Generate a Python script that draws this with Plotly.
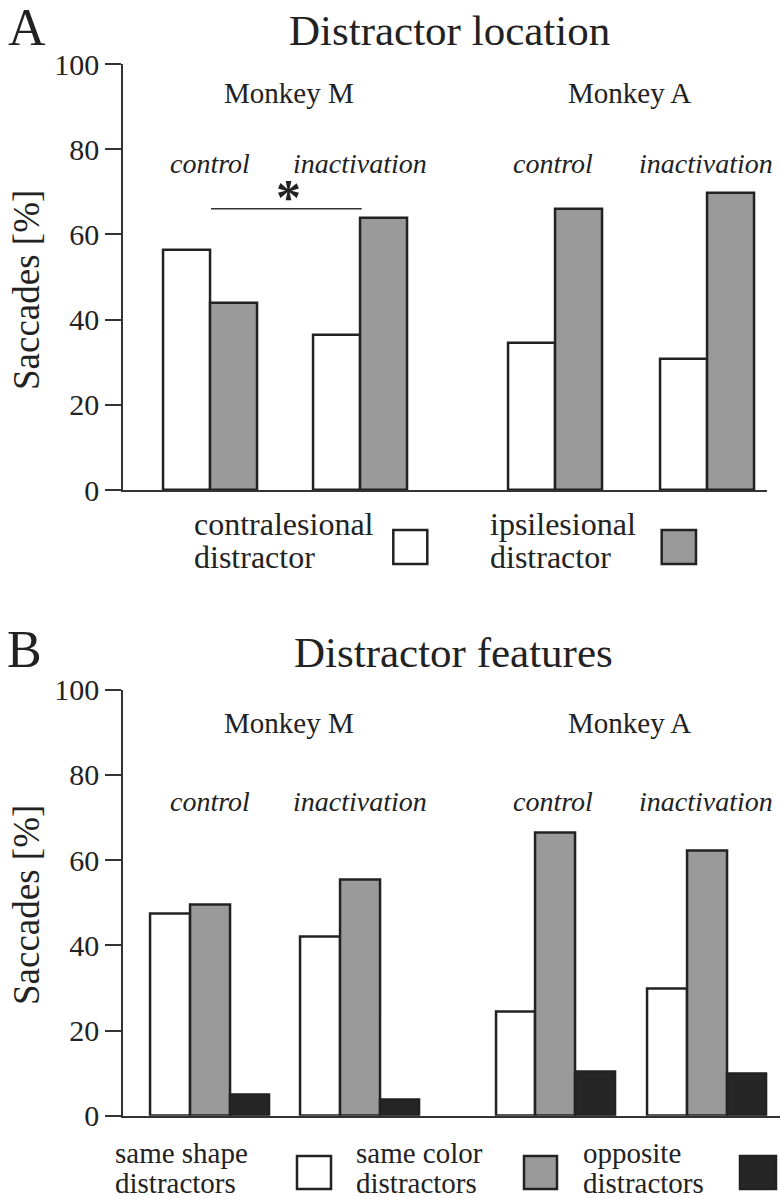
import plotly.graph_objects as go

# ---------------- data ----------------
conditions = ["control", "inactivation", "control", "inactivation"]
monkeys = ["Monkey M", "Monkey A"]

# Panel A: distractor location (% saccades)
contralesional = [56.3, 36.3, 34.4, 30.7]
ipsilesional = [44.0, 63.9, 65.9, 69.8]

# Panel B: distractor features (% saccades)
same_shape = [47.5, 42.0, 24.5, 29.7]
same_color = [49.5, 55.3, 66.5, 62.1]
opposite = [4.9, 3.7, 10.3, 9.9]

y_ticks = [0, 20, 40, 60, 80, 100]

# ---------------- layout constants ----------------
W, H = 780, 1199
GROUP_POS = [0, 1, 2.304, 3.313]    # group centres (150 px per unit)
PX_PER_UNIT = 150.0
X0 = 210.0                         # pixel of group 0 centre

WHITE = "#ffffff"
GRAY = "#9a9a9a"
BLACK = "#262626"
EDGE = "#222222"
AX = "#333333"
FONT = "Liberation Serif"


def px(x):
    return x / W


def py(y):
    return 1 - y / H


def xr(p):
    return (p - X0) / PX_PER_UNIT


fig = go.Figure()

# Panel A bars
wA = 47 / PX_PER_UNIT
fig.add_trace(go.Bar(x=GROUP_POS, y=contralesional, width=wA, offset=-wA,
                     marker=dict(color=WHITE, line=dict(color=EDGE, width=2.5)),
                     xaxis="x", yaxis="y", name="contralesional distractor"))
fig.add_trace(go.Bar(x=GROUP_POS, y=ipsilesional, width=wA, offset=0,
                     marker=dict(color=GRAY, line=dict(color=EDGE, width=2.5)),
                     xaxis="x", yaxis="y", name="ipsilesional distractor"))

# Panel B bars
wB = 39.7 / PX_PER_UNIT
fig.add_trace(go.Bar(x=GROUP_POS, y=same_shape, width=wB, offset=-1.5 * wB,
                     marker=dict(color=WHITE, line=dict(color=EDGE, width=2.5)),
                     xaxis="x2", yaxis="y2", name="same shape distractors"))
fig.add_trace(go.Bar(x=GROUP_POS, y=same_color, width=wB, offset=-0.5 * wB,
                     marker=dict(color=GRAY, line=dict(color=EDGE, width=2.5)),
                     xaxis="x2", yaxis="y2", name="same color distractors"))
fig.add_trace(go.Bar(x=GROUP_POS, y=opposite, width=wB, offset=0.5 * wB,
                     marker=dict(color=BLACK, line=dict(color=EDGE, width=2.5)),
                     xaxis="x2", yaxis="y2", name="opposite distractors"))

yax_common = dict(range=[0, 100], tickvals=y_ticks, showline=True, linecolor=AX,
                  linewidth=2, ticks="outside", ticklen=16, tickwidth=2,
                  tickcolor=AX, showgrid=False, zeroline=False, automargin=False,
                  tickfont=dict(family=FONT, size=30, color="#222"))
xax_common = dict(showline=True, linecolor=AX, linewidth=2, showticklabels=False,
                  ticks="", showgrid=False, zeroline=False, automargin=False)

fig.update_layout(
    template="none",
    width=W, height=H, margin=dict(l=0, r=0, t=0, b=0, pad=0, autoexpand=False),
    paper_bgcolor="white", plot_bgcolor="white", showlegend=False,
    bargap=0,
    xaxis=dict(domain=[px(123.3), px(766.7)], range=[xr(123.3), xr(766.7)],
               anchor="y", **xax_common),
    yaxis=dict(domain=[py(490), py(64)], anchor="x", **yax_common),
    xaxis2=dict(domain=[px(123.3), 1.0], range=[xr(123.3), xr(780)],
                anchor="y2", **xax_common),
    yaxis2=dict(domain=[py(1115.7), py(689.7)], anchor="x2", **yax_common),
)

anns = []


def txt(x, y, s, size, italic=False, xanchor="center", yanchor="middle", angle=0):
    if italic:
        s = "<i>" + s + "</i>"
    anns.append(dict(x=px(x), y=py(y), xref="paper", yref="paper", text=s,
                     showarrow=False, xanchor=xanchor, yanchor=yanchor,
                     textangle=angle,
                     font=dict(family=FONT, size=size, color="#222")))


# Panel letters and titles
txt(27, 28, "A", 52)
txt(450, 30, "Distractor location", 43)
txt(24, 650, "B", 52)
txt(453, 652, "Distractor features", 43)

# y titles
txt(26, 290, "Saccades [%]", 37, angle=-90)
txt(26, 905, "Saccades [%]", 37, angle=-90)

# Monkey / condition labels
label_x = [210, 360, 553, 706]
for i, m in enumerate(monkeys):
    txt([288.5, 629][i], 93, m, 29)
    txt([288.5, 629][i], 723, m, 29)
for i, c in enumerate(conditions):
    txt(label_x[i], 163, c, 28, italic=True)
    txt(label_x[i], 801, c, 28, italic=True)

# significance marker
txt(288, 197, "<b>*</b>", 50)

# Legend A
txt(191.7, 524, "contralesional", 32, xanchor="left")
txt(191.7, 557, "distractor", 32, xanchor="left")
txt(488.3, 524, "ipsilesional", 32, xanchor="left")
txt(488.3, 557, "distractor", 32, xanchor="left")

# Legend B
txt(113, 1153, "same shape", 29, xanchor="left")
txt(113, 1183, "distractors", 29, xanchor="left")
txt(354, 1153, "same color", 29, xanchor="left")
txt(354, 1183, "distractors", 29, xanchor="left")
txt(581, 1153, "opposite", 29, xanchor="left")
txt(581, 1183, "distractors", 29, xanchor="left")

fig.update_layout(annotations=anns)

shapes = []
# significance line
shapes.append(dict(type="line", xref="paper", yref="paper",
                   x0=px(211), x1=px(361.7), y0=py(208.7), y1=py(208.7),
                   line=dict(color=AX, width=1.5)))


def box(x0, y0, x1, y1, fill):
    shapes.append(dict(type="rect", xref="paper", yref="paper",
                       x0=px(x0), x1=px(x1), y0=py(y1), y1=py(y0),
                       fillcolor=fill, line=dict(color=EDGE, width=2.5)))


box(393.3, 530, 427.3, 564, WHITE)
box(661.7, 530, 696, 564, GRAY)
box(297, 1156, 331, 1189, WHITE)
box(524, 1156, 557, 1189, GRAY)
box(740, 1156, 776, 1189, BLACK)

fig.update_layout(shapes=shapes)

fig.write_html("out.html", config={"displayModeBar": False},
               post_script="document.body.style.margin='0px';")
